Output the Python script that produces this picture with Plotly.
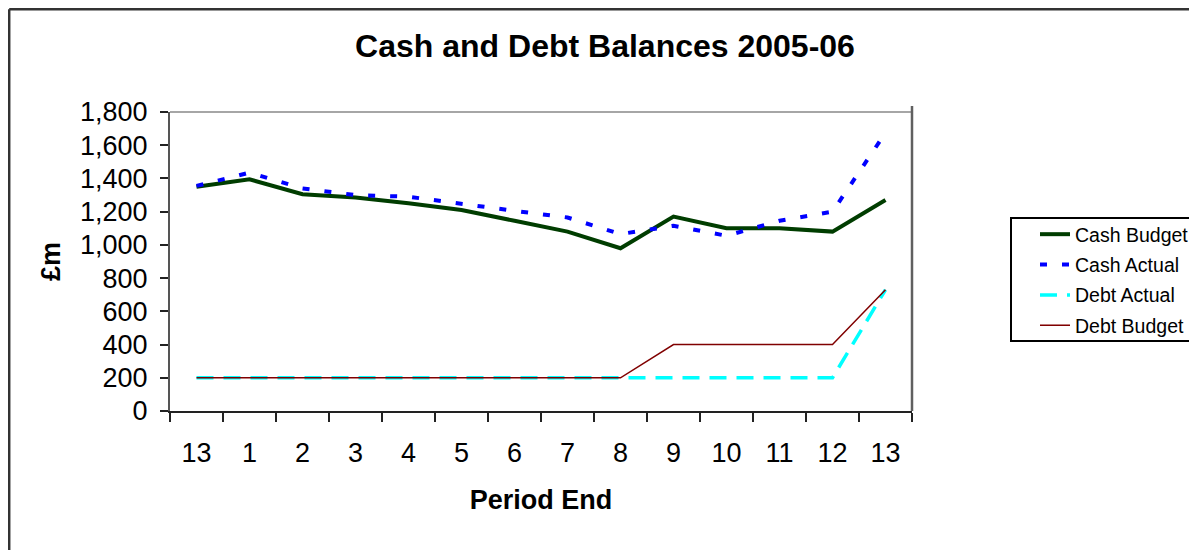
import plotly.graph_objects as go

# ---- data ----
periods = ["13", "1", "2", "3", "4", "5", "6", "7", "8", "9", "10", "11", "12", "13"]
cash_budget = [1350, 1395, 1305, 1285, 1250, 1210, 1145, 1080, 980, 1170, 1100, 1100, 1080, 1270]
cash_actual = [1355, 1435, 1340, 1300, 1290, 1245, 1205, 1165, 1065, 1115, 1055, 1145, 1200, 1675]
debt_actual = [200, 200, 200, 200, 200, 200, 200, 200, 200, 200, 200, 200, 200, 730]
debt_budget = [200, 200, 200, 200, 200, 200, 200, 200, 200, 400, 400, 400, 400, 730]
y_ticks = [0, 200, 400, 600, 800, 1000, 1200, 1400, 1600, 1800]

xs = list(range(len(periods)))
FONT = "Liberation Sans, Arial, sans-serif"

# page body has an 8px margin, so the figure starts at (8, 8) on screen
OX, OY = 8, 8
W, H = 1197 - OX, 550 - OY
L, R, T, B = 170, 912, 112, 411  # plot area in screen pixels


def px(x):
    return (x - L) / (R - L)


def py(y):
    return (B - y) / (B - T)


fig = go.Figure()
fig.add_trace(go.Scatter(x=xs, y=cash_budget, mode="lines", name="Cash Budget", legendgroup="a",
                         line=dict(color="#003d00", width=4)))
fig.add_trace(go.Scatter(x=xs, y=cash_actual, mode="lines", name="Cash Actual", legendgroup="b",
                         line=dict(color="#0000ff", width=4, dash="7px,15px")))
fig.add_trace(go.Scatter(x=xs, y=debt_actual, mode="lines", name="Debt Actual", legendgroup="c",
                         line=dict(color="#00ffff", width=3.5, dash="17px,10px")))
fig.add_trace(go.Scatter(x=xs, y=debt_budget, mode="lines", name="Debt Budget", legendgroup="d",
                         line=dict(color="#800000", width=1.5)))

shapes = [
    # outer chart border (left and top visible)
    dict(type="line", xref="paper", yref="paper", x0=px(9.2), x1=px(9.2), y0=py(9.2), y1=py(560),
         line=dict(color="#333333", width=2.5)),
    dict(type="line", xref="paper", yref="paper", x0=px(9.2), x1=px(1210), y0=py(9.2), y1=py(9.2),
         line=dict(color="#333333", width=2.5)),
    # plot area border
    dict(type="line", xref="paper", yref="paper", x0=0, x1=1, y0=1, y1=1,
         line=dict(color="#a6a6a6", width=2)),
    dict(type="line", xref="paper", yref="paper", x0=1, x1=1, y0=0, y1=py(106),
         line=dict(color="#606060", width=2.5)),
    # legend box
    dict(type="rect", xref="paper", yref="paper", x0=px(1011), x1=px(1193), y0=py(341), y1=py(218),
         line=dict(color="#000000", width=2)),
]

fig.update_layout(
    width=W, height=H,
    margin=dict(l=L - OX, r=W - (R - OX), t=T - OY, b=H - (B - OY), pad=0, autoexpand=False),
    paper_bgcolor="white", plot_bgcolor="white",
    font=dict(family=FONT, color="black"),
    title=dict(text="<b>Cash and Debt Balances 2005-06</b>", font=dict(size=32, family=FONT, color="black"),
               x=(605 - OX) / W, xref="container", xanchor="center",
               y=1 - (46 - OY) / H, yref="container", yanchor="middle"),
    showlegend=True,
    legend=dict(x=px(1035), y=py(215), xanchor="left", yanchor="top",
                font=dict(size=19.5, family=FONT, color="black"),
                bgcolor="rgba(0,0,0,0)", borderwidth=0,
                traceorder="grouped", tracegroupgap=2),
    shapes=shapes,
)

fig.update_xaxes(
    range=[-0.5, len(periods) - 0.5],
    tickmode="array", tickvals=xs, ticktext=periods, ticks="",
    tickfont=dict(size=27, family=FONT, color="black"),
    ticklabelstandoff=17,
    showline=True, linecolor="#222222", linewidth=2,
    showgrid=False, zeroline=False,
    minor=dict(tickmode="linear", tick0=-0.5, dtick=1, ticks="outside", ticklen=9,
               tickcolor="#222222", tickwidth=1.5, showgrid=False),
    title=dict(text="<b>Period End</b>", font=dict(size=27, family=FONT, color="black"), standoff=23),
    fixedrange=True,
)
fig.update_yaxes(
    range=[0, 1800],
    tickmode="array", tickvals=y_ticks, tickformat=",",
    ticks="outside", ticklen=8, tickcolor="#222222", tickwidth=1.5,
    tickfont=dict(size=27, family=FONT, color="black"),
    ticklabelstandoff=7,
    showline=True, linecolor="#555555", linewidth=2,
    showgrid=False, zeroline=False,
    title=dict(text="<b>£m</b>", font=dict(size=27, family=FONT, color="black"), standoff=12),
    fixedrange=True,
)

fig.write_html("out.html")
